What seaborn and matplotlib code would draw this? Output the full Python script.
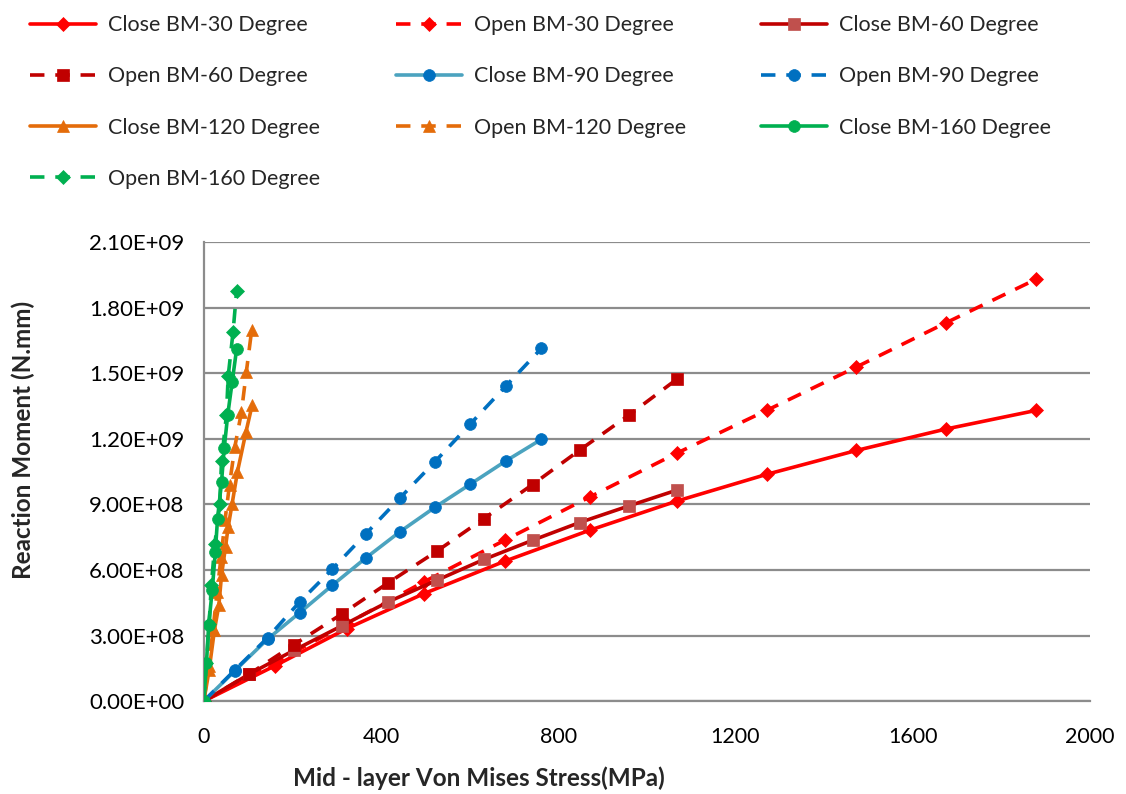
import numpy as np
import pandas as pd
import matplotlib
matplotlib.use("Agg")
import matplotlib.pyplot as plt
import seaborn as sns
from matplotlib.ticker import MultipleLocator, FuncFormatter

# ---- data (stress in MPa, moment in N.mm) ----
labels = ["Close BM-30 Degree", "Open BM-30 Degree", "Close BM-60 Degree",
          "Open BM-60 Degree", "Close BM-90 Degree", "Open BM-90 Degree",
          "Close BM-120 Degree", "Open BM-120 Degree", "Close BM-160 Degree",
          "Open BM-160 Degree"]

close30_x = [0, 160, 323, 497, 679, 871, 1067, 1271, 1473, 1675, 1878]
close30_y = [0, 1.61e8, 3.32e8, 4.92e8, 6.40e8, 7.82e8, 9.15e8, 1.038e9, 1.147e9, 1.245e9, 1.330e9]
open30_x = [0, 160, 323, 497, 679, 871, 1067, 1271, 1473, 1675, 1878]
open30_y = [0, 1.76e8, 3.55e8, 5.46e8, 7.36e8, 9.34e8, 1.134e9, 1.331e9, 1.529e9, 1.731e9, 1.930e9]
close60_x = [0, 102, 204, 311, 416, 526, 632, 742, 848, 959, 1067]
close60_y = [0, 1.23e8, 2.33e8, 3.44e8, 4.54e8, 5.53e8, 6.48e8, 7.36e8, 8.17e8, 8.93e8, 9.65e8]
open60_x = [0, 102, 204, 311, 416, 526, 632, 742, 848, 959, 1067]
open60_y = [0, 1.23e8, 2.59e8, 3.98e8, 5.41e8, 6.86e8, 8.35e8, 9.91e8, 1.148e9, 1.308e9, 1.472e9]
close90_x = [0, 70, 144, 216, 290, 365, 442, 521, 601, 681, 762]
close90_y = [0, 1.39e8, 2.84e8, 4.04e8, 5.30e8, 6.54e8, 7.74e8, 8.86e8, 9.92e8, 1.098e9, 1.198e9]
open90_x = [0, 70, 144, 216, 290, 365, 442, 521, 601, 681, 762]
open90_y = [0, 1.42e8, 2.90e8, 4.53e8, 6.04e8, 7.64e8, 9.28e8, 1.094e9, 1.267e9, 1.440e9, 1.614e9]
close120_x = [0, 12, 24, 34, 40, 49, 55, 64, 76, 95, 109]
close120_y = [0, 1.42e8, 3.25e8, 4.39e8, 5.76e8, 7.06e8, 7.97e8, 9.04e8, 1.05e9, 1.23e9, 1.354e9]
open120_x = [0, 11, 21, 30, 39, 48, 58, 70, 85, 96, 108]
open120_y = [0, 1.60e8, 3.30e8, 5.00e8, 6.60e8, 8.30e8, 9.90e8, 1.163e9, 1.323e9, 1.506e9, 1.697e9]
close160_x = [0, 6, 11, 19, 26, 31, 40, 46, 54, 64, 74]
close160_y = [0, 1.75e8, 3.48e8, 5.08e8, 6.83e8, 8.35e8, 1.003e9, 1.156e9, 1.310e9, 1.460e9, 1.610e9]
open160_x = [0, 6, 12, 17, 25, 36, 40, 51, 55, 66, 74]
open160_y = [0, 1.75e8, 3.55e8, 5.30e8, 7.21e8, 9.04e8, 1.099e9, 1.308e9, 1.486e9, 1.689e9, 1.876e9]

xs = [close30_x, open30_x, close60_x, open60_x, close90_x, open90_x,
      close120_x, open120_x, close160_x, open160_x]
ys = [close30_y, open30_y, close60_y, open60_y, close90_y, open90_y,
      close120_y, open120_y, close160_y, open160_y]

# ---- styles ----
line_colors = ["#FF0000", "#FF0000", "#C00000", "#C00000", "#4BA3BF", "#0070C0",
               "#E46C0A", "#E46C0A", "#00B050", "#00B050"]
marker_colors = ["#FF0000", "#FF0000", "#C0504D", "#C00000", "#0070C0", "#0070C0",
                 "#E46C0A", "#E46C0A", "#00B050", "#00B050"]
markers = ["D", "D", "s", "s", "o", "o", "^", "^", "o", "D"]
msizes = [7.5, 7.5, 8, 8, 8.5, 8.5, 8.5, 8.5, 8.5, 7.5]
dashed = [False, True, False, True, False, True, False, True, False, True]

sns.set_theme(style="white")
plt.rcParams["font.family"] = ["Lato", "DejaVu Sans"]

fig = plt.figure(figsize=(11.26, 7.94), dpi=100)
ax = fig.add_axes([0.181, 0.117, 0.787, 0.578])

handles = []
for i in range(10):
    df = pd.DataFrame({"x": xs[i], "y": ys[i]})
    sns.lineplot(data=df, x="x", y="y", ax=ax, sort=False, estimator=None,
                 color=line_colors[i], linewidth=2.6,
                 marker=markers[i], markersize=msizes[i],
                 markerfacecolor=marker_colors[i], markeredgecolor=marker_colors[i],
                 markeredgewidth=0.5, label=labels[i],
                 dashes=(4, 3) if dashed[i] else "", zorder=3 + i)
    handles.append(ax.lines[-1])

ax.set_xlim(0, 2000)
ax.set_ylim(0, 2.1e9)
ax.xaxis.set_major_locator(MultipleLocator(400))
ax.xaxis.set_minor_locator(MultipleLocator(80))
ax.yaxis.set_major_locator(MultipleLocator(3e8))
ax.yaxis.set_minor_locator(MultipleLocator(6e7))
ax.yaxis.set_major_formatter(FuncFormatter(lambda v, p: f"{v:.2E}"))
ax.xaxis.set_major_formatter(FuncFormatter(lambda v, p: f"{v:.0f}"))

ax.grid(axis="y", which="major", color="#8C8C8C", linewidth=1.6)
ax.grid(axis="x", visible=False)
for s in ["top", "right"]:
    ax.spines[s].set_visible(False)
for s in ["left", "bottom"]:
    ax.spines[s].set_color("#8C8C8C")
    ax.spines[s].set_linewidth(1.6)
ax.tick_params(axis="both", which="both", direction="in", color="#8C8C8C",
               width=1.2, labelcolor="black", length=6)
ax.tick_params(axis="y", which="major", labelsize=16, pad=14)
ax.tick_params(axis="x", which="major", labelsize=15.5, pad=19)

ax.set_xlabel("Mid - layer Von Mises Stress(MPa)", fontsize=17.5, fontweight="bold")
ax.set_ylabel("Reaction Moment (N.mm)", fontsize=17.5, fontweight="bold")
ax.xaxis.set_label_coords(0.31, -0.143)
ax.yaxis.set_label_coords(-0.19, 0.57)

if ax.legend_:
    ax.legend_.remove()
order = [0, 3, 6, 9, 1, 4, 7, 2, 5, 8]
fig.legend([handles[k] for k in order], [labels[k] for k in order],
           ncol=3, loc="upper left", bbox_to_anchor=(0.0133, 1.0),
           frameon=False, fontsize=15.5, handlelength=3.07, handletextpad=0.56,
           columnspacing=3.5, labelspacing=1.45, borderaxespad=0.3)

fig.savefig("out.png", dpi=100, facecolor="white")
